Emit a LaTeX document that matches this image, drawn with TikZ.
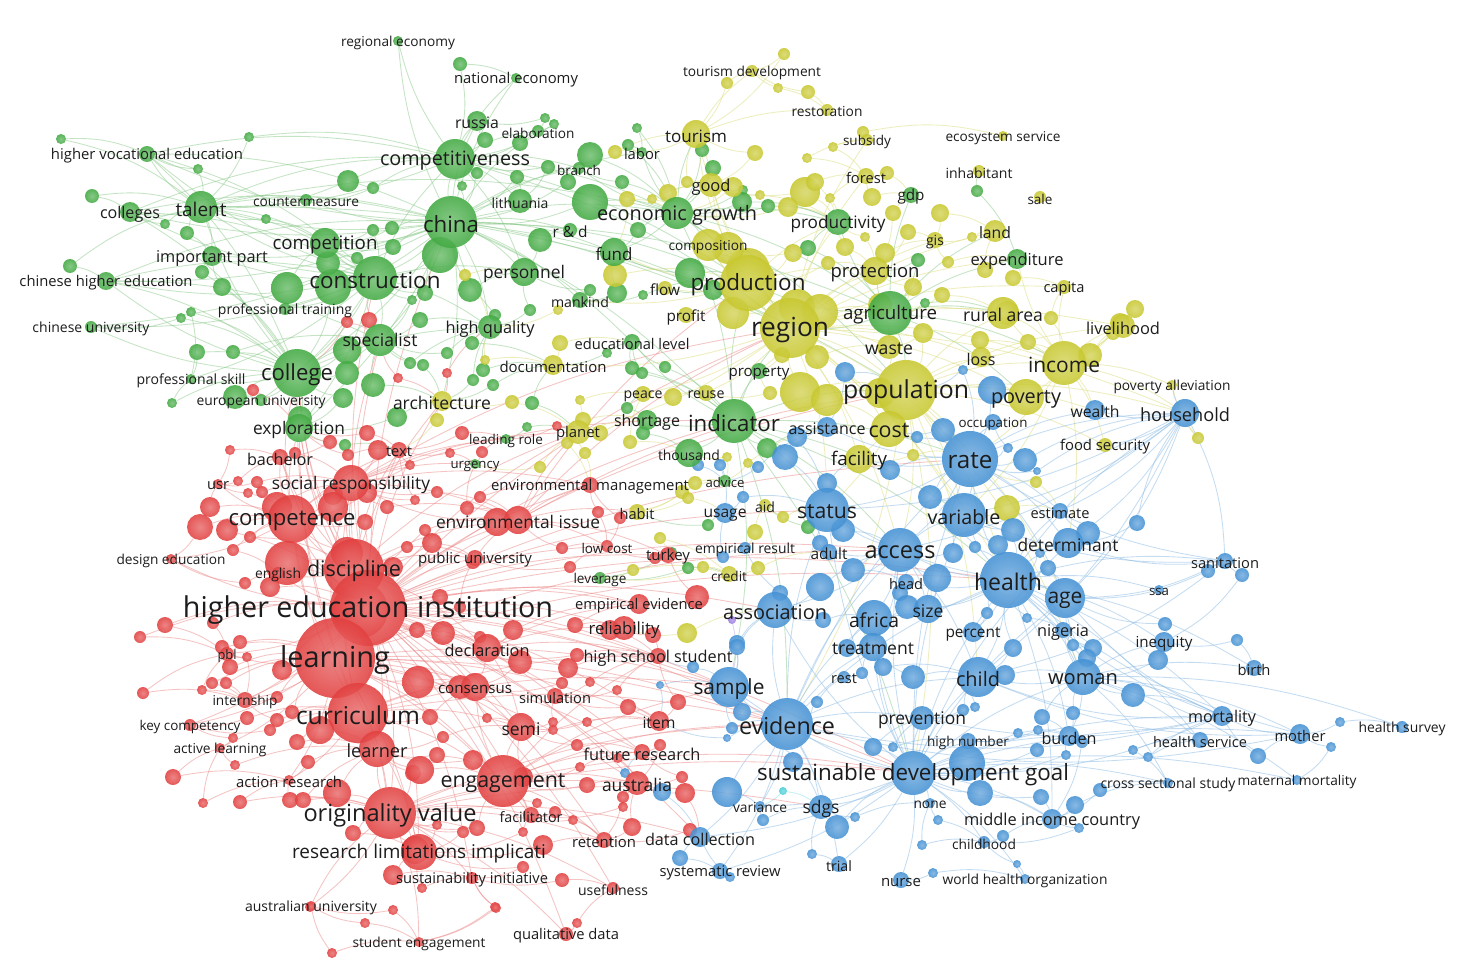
\documentclass[tikz,border=0pt]{standalone}
\usepackage{fontspec}
\setmainfont{Open Sans}
\usepackage{graphicx}
\definecolor{cG}{RGB}{66,170,66}
\definecolor{cY}{RGB}{200,200,48}
\definecolor{cR}{RGB}{226,64,64}
\definecolor{cB}{RGB}{68,145,212}
\definecolor{cC}{RGB}{70,205,215}
\definecolor{cP}{RGB}{150,120,220}
\definecolor{txt}{RGB}{28,28,28}
\tikzset{
 spot/.style={circle, draw=none, inner sep=0pt, minimum size=#1*2pt},
 lab/.style={inner sep=0pt, text=txt, yshift=-2pt, font=\fontsize{20pt}{24pt}\selectfont},
 ed/.style={draw=#1!62!white, draw opacity=.5, line width=.85pt},
 dot/.style={inner color=#1!72!white, outer color=#1, fill opacity=.88},
}
\def\hubs{%
regecon/398/41/5/cG/114/regional economy,
nateco/516/78/5/cG/124/national economy,
hve/147/154/8/cG/192/higher vocational education,
colleges/130/212/10/cG/60/colleges,
talent/201/207/16/cG/51/talent,
counterm/306/200/6/cG/106/countermeasure,
compet/455/159/20/cG/150/competitiveness,
russia/477/121/10/cG/44/russia,
elab/538/131/6/cG/73/elaboration,
labor/642/152/5/cG/36/labor,
branch/579/168/6/cG/44/branch,
china/451/222/26/cG/56/china,
lith/520/201/12/cG/57/lithuania,
econg/677/213/16/cG/160/economic growth,
rd/570/230/7/cG/35/r \& d,
fund/614/252/14/cG/37/fund,
competition/325/243/15/cG/105/competition,
imppart/212/256/10/cG/112/important part,
constr/375/278/22/cG/131/construction,
personnel/524/272/14/cG/82/personnel,
chihe/106/281/9/cG/173/chinese higher education,
proftrain/285/309/6/cG/134/professional training,
mankind/580/300/8/cG/58/mankind,
highq/490/327/12/cG/89/high quality,
chiuni/91/327/6/cG/117/chinese university,
specialist/380/340/16/cG/75/specialist,
edulevel/632/342/8/cG/115/educational level,
college/297/373/24/cG/72/college,
profskill/191/379/5/cG/109/professional skill,
euuni/261/400/6/cG/129/european university,
exploration/299/428/14/cG/92/exploration,
agri/890/313/22/cG/94/agriculture,
expend/1017/259/10/cG/93/expenditure,
gdp/911/195/8/cG/27/gdp,
productivity/838/222/13/cG/95/productivity,
indicator/734/421/22/cG/92/indicator,
property/759/371/8/cG/61/property,
shortage/647/420/10/cG/66/shortage,
leadrole/506/439/5/cG/74/leading role,
thousand/689/453/14/cG/62/thousand,
urgency/475/464/5/cG/49/urgency,
advice/725/481/6/cG/39/advice,
leverage/600/578/6/cG/53/leverage,
flow/665/288/7/cY/30/flow,
production/748/283/28/cY/115/production,
profit/686/315/8/cY/39/profit,
architecture/442/401/10/cY/98/architecture,
documentation/553/365/10/cY/107/documentation,
region/790/328/30/cY/78/region,
waste/889/347/12/cY/48/waste,
loss/981/357/10/cY/29/loss,
rural/1003/313/16/cY/80/rural area,
livelihood/1123/326/12/cY/74/livelihood,
income/1064/363/22/cY/72/income,
capita/1064/287/7/cY/41/capita,
land/995/231/11/cY/32/land,
gis/935/240/8/cY/18/gis,
sale/1040/197/6/cY/25/sale,
inhab/979/171/6/cY/67/inhabitant,
ecoserv/1003/136/5/cY/115/ecosystem service,
subsidy/867/140/6/cY/48/subsidy,
restoration/827/110/6/cY/71/restoration,
tourdev/752/71/6/cY/138/tourism development,
tourism/696/134/14/cY/62/tourism,
forest/866/176/8/cY/40/forest,
good/711/185/12/cY/39/good,
composition/708/245/16/cY/79/composition,
protection/875/271/14/cY/89/protection,
population/906/390/30/cY/126/population,
poverty/1026/397/18/cY/70/poverty,
povall/1172/385/5/cY/117/poverty alleviation,
foodsec/1105/445/7/cY/90/food security,
cost/889/429/18/cY/41/cost,
facility/859/459/14/cY/56/facility,
peace/643/394/8/cY/39/peace,
reuse/706/393/8/cY/37/reuse,
planet/578/432/12/cY/44/planet,
habit/637/512/8/cY/35/habit,
aid/765/505/6/cY/20/aid,
credit/729/574/8/cY/36/credit,
text/399/450/8/cR/26/text,
bachelor/280/457/8/cR/66/bachelor,
usr/218/484/5/cR/22/usr,
socresp/351/483/18/cR/158/social responsibility,
envmgmt/590/485/8/cR/198/environmental management,
competence/292/519/24/cR/127/competence,
envissue/518/520/14/cR/164/environmental issue,
lowcost/607/546/6/cR/51/low cost,
turkey/668/555/8/cR/44/turkey,
pubuni/475/558/8/cR/114/public university,
designedu/171/559/5/cR/109/design education,
english/278/573/6/cR/46/english,
discipline/354/569/30/cR/94/discipline,
hei/368/608/38/cR/370/higher education institution,
empev/639/604/10/cR/128/empirical evidence,
reliability/624/628/12/cR/71/reliability,
declaration/487/648/14/cR/85/declaration,
learning/335/658/40/cR/110/learning,
pbl/227/654/7/cR/19/pbl,
hss/658/656/8/cR/149/high school student,
consensus/475/687/14/cR/74/consensus,
simulation/555/696/8/cR/72/simulation,
internship/245/700/8/cR/65/internship,
curriculum/358/713/30/cR/124/curriculum,
item/659/721/10/cR/33/item,
semi/521/727/14/cR/39/semi,
keycomp/190/725/6/cR/101/key competency,
activel/220/748/5/cR/93/active learning,
learner/377/749/18/cR/61/learner,
futureres/642/752/8/cR/117/future research,
actionres/289/780/5/cR/106/action research,
engagement/503/781/26/cR/125/engagement,
australia/637/783/12/cR/70/australia,
originality/390/813/26/cR/173/originality value,
facilitator/531/815/8/cR/63/facilitator,
retention/604/840/8/cR/64/retention,
rli/419/852/18/cR/254/research limitations implicati,
susinit/472/878/6/cR/152/sustainability initiative,
usefulness/613/888/6/cR/70/usefulness,
ausuni/311/906/5/cR/132/australian university,
studeng/419/942/5/cR/133/student engagement,
qualdata/566/934/7/cR/106/qualitative data,
wealth/1095/410/10/cB/49/wealth,
household/1185/413/14/cB/90/household,
occupation/993/422/8/cB/69/occupation,
assistance/827/427/10/cB/77/assistance,
rate/970/459/28/cB/45/rate,
usage/725/513/10/cB/43/usage,
status/827/510/22/cB/60/status,
variable/964/515/22/cB/73/variable,
estimate/1060/511/8/cB/59/estimate,
determinant/1068/543/15/cB/101/determinant,
access/900/550/22/cB/71/access,
adult/829/552/8/cB/37/adult,
empres/745/548/6/cB/100/empirical result,
head/906/582/8/cB/34/head,
health/1008/580/28/cB/68/health,
age/1065/598/20/cB/35/age,
sanitation/1225/561/8/cB/68/sanitation,
ssa/1159/590/5/cB/20/ssa,
association/775/610/18/cB/104/association,
africa/874/618/18/cB/50/africa,
size/928/609/14/cB/31/size,
percent/973/632/10/cB/55/percent,
nigeria/1063/630/8/cB/52/nigeria,
inequity/1164/642/10/cB/57/inequity,
treatment/873/647/14/cB/82/treatment,
birth/1254/668/8/cB/33/birth,
sample/729/687/20/cB/71/sample,
rest/844/677/6/cB/26/rest,
child/978/677/20/cB/44/child,
woman/1083/677/18/cB/70/woman,
evidence/787/724/26/cB/96/evidence,
prevention/922/718/12/cB/88/prevention,
mortality/1222/716/10/cB/68/mortality,
healthsurvey/1402/727/6/cB/87/health survey,
mother/1300/734/10/cB/51/mother,
healthserv/1200/740/8/cB/94/health service,
burden/1069/736/10/cB/55/burden,
highnum/968/741/8/cB/82/high number,
sdg/913/773/22/cB/312/sustainable development goal,
crosssec/1168/783/5/cB/135/cross sectional study,
maternal/1297/780/5/cB/119/maternal mortality,
variance/760/806/5/cB/54/variance,
sdgs/821/807/12/cB/37/sdgs,
none/930/803/5/cB/33/none,
mic/1052/819/10/cB/176/middle income country,
datacoll/700/837/10/cB/110/data collection,
childhood/984/842/6/cB/64/childhood,
sysrev/720/871/8/cB/121/systematic review,
trial/839/864/8/cB/26/trial,
nurse/901/880/8/cB/40/nurse,
who/1025/879/5/cB/165/world health organization}
\def\bubs{%
61/139/5/cG/hve/talent, 249/137/5/cG/talent/compet, 198/169/5/cG/talent/hve, 92/196/7/cG/colleges/talent,
348/181/11/cG/compet/talent, 373/188/6/cG/compet/counterm, 165/224/5/cG/talent/colleges, 187/233/7/cG/talent/imppart,
266/219/5/cG/talent/competition, 485/140/8/cG/russia/compet, 462/186/5/cG/compet/china, 477/173/6/cG/compet/china,
392/228/7/cG/china/competition, 373/230/6/cG/competition/constr, 393/247/8/cG/competition/china, 440/255/18/cG/china/constr,
357/258/6/cG/constr/competition, 425/293/8/cG/constr/china, 412/300/5/cG/constr/specialist, 470/290/12/cG/china/personnel,
287/288/16/cG/constr/competition, 333/287/18/cG/constr/college, 328/263/12/cG/competition/constr, 202/272/7/cG/imppart/college,
222/287/9/cG/imppart/college, 70/266/7/cG/chihe/talent, 181/318/5/cG/college/chiuni, 191/312/5/cG/college/profskill,
420/320/8/cG/specialist/highq, 460/64/7/cG/nateco/compet, 545/118/5/cG/elab/russia, 554/124/5/cG/elab/compet,
637/128/5/cG/labor/econg, 520/143/8/cG/compet/elab, 590/155/13/cG/branch/econg, 628/145/6/cG/labor/econg,
702/150/7/cG/tourism/econg, 713/168/8/cG/econg/good, 743/190/5/cG/econg/good, 590/202/18/cG/econg/china,
622/182/7/cG/econg/branch, 568/182/8/cG/branch/china, 548/167/7/cG/lith/compet, 517/177/7/cG/lith/china,
638/230/8/cG/fund/econg, 540/240/12/cG/rd/personnel, 742/202/10/cG/econg/productivity, 768/206/7/cG/econg/productivity,
808/248/8/cG/productivity/agri, 918/260/7/cG/protection/agri, 925/303/5/cG/agri/rural, 690/273/15/cG/production/fund,
617/293/10/cG/fund/mankind, 643/295/5/cG/mankind/production, 590/290/6/cG/mankind/personnel, 530/310/6/cG/highq/personnel,
495/315/6/cG/highq/china, 713/290/10/cG/production/flow, 197/352/8/cG/college/profskill, 233/352/7/cG/college/specialist,
347/350/14/cG/specialist/college, 373/385/12/cG/specialist/architecture, 347/373/12/cG/college/specialist, 343/398/10/cG/exploration/college,
235/397/12/cG/euuni/college, 172/403/5/cG/profskill/college, 397/417/10/cG/architecture/exploration, 300/418/12/cG/exploration/college,
410/363/6/cG/specialist/highq, 423/365/6/cG/specialist/architecture, 447/353/6/cG/highq/specialist, 472/343/7/cG/highq/documentation,
473/380/6/cG/architecture/highq, 483/370/7/cG/highq/documentation, 607/353/5/cG/edulevel/documentation, 632/368/7/cG/edulevel/indicator,
642/373/6/cG/indicator/edulevel, 665/367/6/cG/indicator/edulevel, 493/385/6/cG/documentation/architecture, 532/403/7/cG/planet/documentation,
627/408/6/cG/shortage/peace, 643/433/7/cG/shortage/thousand, 527/427/5/cG/leadrole/planet, 767/448/10/cG/indicator/assistance,
808/527/7/cG/status/aid, 708/525/6/cG/usage/habit, 672/552/5/cG/turkey/leverage, 688/568/6/cG/credit/leverage,
345/445/6/cG/text/exploration, 977/191/6/cG/inhab/expend,
784/54/6/cY/tourdev/tourism, 727/83/6/cY/tourdev/tourism, 778/88/5/cY/tourdev/restoration, 808/92/7/cY/restoration/tourdev,
615/152/7/cY/labor/tourism, 755/153/8/cY/tourism/good, 807/158/5/cY/subsidy/forest, 833/147/5/cY/subsidy/forest,
863/132/6/cY/subsidy/ecoserv, 687/182/6/cY/good/tourism, 733/187/10/cY/good/econg, 668/193/9/cY/good/econg,
652/199/5/cY/econg/good, 627/199/8/cY/econg/fund, 760/195/5/cY/good/productivity, 805/192/15/cY/productivity/good,
815/182/9/cY/productivity/forest, 788/207/10/cY/productivity/econg, 830/198/5/cY/productivity/forest, 872/197/9/cY/forest/gdp,
887/173/7/cY/forest/gdp, 893/213/8/cY/gdp/protection, 940/213/9/cY/gis/land, 908/232/8/cY/gis/protection,
845/247/9/cY/protection/productivity, 793/253/9/cY/production/composition, 885/253/10/cY/protection/gis, 948/262/6/cY/gis/expend,
972/237/5/cY/land/gis, 828/263/7/cY/protection/production, 865/237/5/cY/productivity/protection, 913/287/9/cY/protection/agri,
942/295/8/cY/rural/agri, 615/275/12/cY/fund/production, 558/310/5/cY/mankind/highq, 733/313/16/cY/region/production,
748/270/22/cY/production/composition, 728/248/16/cY/composition/production, 797/307/18/cY/region/production, 820/312/18/cY/region/agri,
880/305/12/cY/agri/waste, 985/270/8/cY/expend/land, 1013/278/8/cY/expend/capita, 1135/309/9/cY/livelihood/income,
1007/313/12/cY/rural/income, 1051/318/7/cY/capita/income, 1120/323/10/cY/livelihood/income, 465/275/6/cY/personnel/highq,
560/343/8/cY/documentation/edulevel, 485/360/5/cY/highq/documentation, 512/402/7/cY/planet/architecture, 580/400/5/cY/peace/planet,
673/397/9/cY/peace/reuse, 583/420/8/cY/planet/shortage, 600/433/8/cY/planet/shortage, 567/443/6/cY/planet/envmgmt,
540/467/6/cY/urgency/planet, 585/453/6/cY/planet/envmgmt, 630/442/7/cY/thousand/peace, 727/457/5/cY/thousand/advice,
748/463/5/cY/advice/assistance, 800/392/20/cY/region/population, 827/400/16/cY/population/cost, 770/393/7/cY/property/reuse,
782/355/8/cY/region/property, 817/357/12/cY/region/waste, 880/393/15/cY/population/cost, 923/333/10/cY/waste/population,
913/455/6/cY/facility/rate, 980/340/9/cY/loss/income, 1028/342/8/cY/income/loss, 1090/355/12/cY/income/livelihood,
1113/333/7/cY/livelihood/income, 1198/438/6/cY/household/povall, 1036/482/6/cY/rate/estimate, 1007/508/13/cY/variable/estimate,
695/483/7/cY/advice/habit, 682/492/7/cY/habit/advice, 688/498/6/cY/habit/usage, 660/538/6/cY/turkey/credit,
633/570/6/cY/leverage/credit, 703/567/6/cY/credit/leverage, 758/568/7/cY/credit/adult, 755/532/8/cY/aid/empres,
783/517/6/cY/aid/status, 687/633/10/cY/reliability/association, 437/420/7/cY/architecture/text,
347/322/6/cR/specialist/college, 369/320/8/cR/specialist/constr, 253/390/6/cR/euuni/exploration, 398/378/5/cR/architecture/specialist,
447/373/5/cR/architecture/highq, 367/433/8/cR/text/exploration, 378/450/10/cR/text/socresp, 348/455/6/cR/text/exploration,
330/442/7/cR/exploration/bachelor, 230/450/5/cR/bachelor/usr, 295/453/6/cR/bachelor/socresp, 462/433/7/cR/leadrole/text,
450/453/5/cR/urgency/text, 482/452/6/cR/urgency/leadrole, 410/465/5/cR/text/socresp, 238/481/5/cR/usr/bachelor,
257/482/6/cR/usr/socresp, 248/493/5/cR/usr/competence, 262/492/6/cR/competence/socresp, 333/495/10/cR/socresp/competence,
367/493/10/cR/socresp/competence, 387/507/7/cR/socresp/envissue, 437/492/6/cR/socresp/envissue, 415/500/5/cR/socresp/text,
467/508/7/cR/envissue/urgency, 480/497/6/cR/envissue/envmgmt, 210/507/10/cR/competence/usr, 200/527/13/cR/competence/designedu,
227/530/11/cR/competence/hei, 250/537/6/cR/competence/discipline, 233/550/6/cR/competence/english, 277/507/15/cR/competence/socresp,
333/507/15/cR/competence/socresp, 365/522/8/cR/competence/discipline, 425/530/6/cR/envissue/discipline, 432/543/10/cR/discipline/pubuni,
407/547/6/cR/discipline/pubuni, 473/562/7/cR/pubuni/envissue, 497/522/14/cR/envissue/socresp, 557/426/5/cR/planet/leadrole,
562/548/6/cR/lowcost/envissue, 570/567/6/cR/lowcost/pubuni, 598/512/6/cR/lowcost/envmgmt, 620/518/6/cR/envmgmt/lowcost,
655/558/6/cR/turkey/lowcost, 697/597/12/cR/empev/turkey, 287/563/22/cR/discipline/hei, 347/553/16/cR/discipline/competence,
393/567/10/cR/discipline/hei, 270/587/10/cR/english/hei, 245/583/6/cR/english/designedu, 165/625/8/cR/hei/pbl,
140/637/6/cR/pbl/hei, 213/623/6/cR/pbl/hei, 240/642/7/cR/pbl/learning, 360/610/28/cR/hei/learning,
443/633/12/cR/hei/declaration, 417/630/8/cR/hei/declaration, 480/637/6/cR/declaration/hei, 440/597/8/cR/hei/empev,
460/607/6/cR/hei/pubuni, 513/630/10/cR/declaration/empev, 575/625/8/cR/reliability/empev, 610/630/10/cR/reliability/hss,
653/635/8/cR/reliability/hss, 520/662/12/cR/declaration/consensus, 568/668/10/cR/hss/simulation, 577/655/7/cR/hss/declaration,
562/683/6/cR/simulation/consensus, 617/690/5/cR/hss/simulation, 590/682/5/cR/simulation/hss, 628/707/8/cR/item/simulation,
678/702/8/cR/item/hss, 553/722/5/cR/semi/simulation, 553/730/5/cR/semi/item, 587/722/5/cR/item/semi,
577/745/6/cR/futureres/semi, 580/767/5/cR/futureres/engagement, 618/758/5/cR/futureres/australia, 660/745/6/cR/futureres/australia,
523/777/10/cR/engagement/semi, 587/785/8/cR/australia/engagement, 682/777/6/cR/australia/futureres, 685/793/10/cR/australia/datacoll,
623/797/6/cR/australia/retention, 623/807/5/cR/australia/facilitator, 537/803/5/cR/facilitator/engagement, 555/812/6/cR/facilitator/retention,
573/820/5/cR/retention/facilitator, 523/832/5/cR/facilitator/rli, 543/845/10/cR/rli/retention, 632/827/9/cR/retention/australia,
690/830/7/cR/datacoll/retention, 523/867/6/cR/susinit/rli, 562/880/7/cR/usefulness/susinit, 496/908/5/cR/susinit/studeng,
577/923/5/cR/qualdata/usefulness, 143/693/6/cR/pbl/internship, 173/777/8/cR/activel/actionres, 203/803/5/cR/actionres/activel,
240/802/7/cR/actionres/originality, 235/765/5/cR/activel/learner, 202/690/5/cR/internship/pbl, 212/683/6/cR/internship/learning,
226/683/6/cR/internship/learning, 230/667/8/cR/pbl/learning, 222/647/7/cR/pbl/learning, 247/657/5/cR/pbl/internship,
247/718/7/cR/keycomp/curriculum, 233/738/5/cR/activel/keycomp, 270/730/6/cR/curriculum/keycomp, 277/720/7/cR/curriculum/internship,
292/712/7/cR/curriculum/learning, 297/742/8/cR/learner/curriculum, 308/762/7/cR/learner/actionres, 277/697/6/cR/learning/internship,
282/670/10/cR/learning/hei, 320/730/14/cR/curriculum/learner, 290/800/8/cR/originality/actionres, 303/800/8/cR/originality/learner,
337/793/14/cR/originality/learner, 353/833/8/cR/originality/rli, 415/850/14/cR/rli/originality, 393/875/10/cR/rli/susinit,
422/888/5/cR/susinit/rli, 393/910/5/cR/ausuni/studeng, 365/923/5/cR/studeng/ausuni, 332/953/5/cR/studeng/ausuni,
310/907/5/cR/ausuni/originality, 495/907/5/cR/studeng/susinit, 477/828/8/cR/originality/engagement, 463/832/6/cR/originality/rli,
437/825/5/cR/originality/rli, 437/755/8/cR/learner/engagement, 413/773/8/cR/learner/originality, 460/687/12/cR/consensus/learning,
418/682/16/cR/learning/consensus, 430/717/8/cR/curriculum/consensus, 443/737/6/cR/learner/semi, 487/718/5/cR/semi/consensus,
420/770/14/cR/engagement/learner, 473/760/10/cR/engagement/learner,
963/370/5/cB/population/rate, 992/390/14/cB/poverty/rate, 1025/460/12/cB/rate/household, 1008/448/5/cB/rate/occupation,
1037/471/4/cB/rate/household, 845/372/10/cB/population/assistance, 943/430/12/cB/rate/cost, 917/437/6/cB/cost/rate,
890/470/10/cB/facility/rate, 797/437/10/cB/assistance/status, 785/457/13/cB/assistance/status, 758/467/6/cB/advice/assistance,
698/465/6/cB/advice/thousand, 720/465/6/cB/advice/usage, 827/483/10/cB/status/facility, 743/497/6/cB/usage/status,
930/497/12/cB/variable/rate, 843/530/12/cB/status/access, 820/543/8/cB/adult/status, 853/570/12/cB/access/head,
953/553/10/cB/variable/access, 937/578/14/cB/size/access, 900/593/8/cB/head/size, 820/587/14/cB/association/access,
780/593/8/cB/association/empres, 823/620/8/cB/africa/association, 907/607/12/cB/size/africa, 737/643/8/cB/association/sample,
723/557/6/cB/empres/usage, 1088/533/12/cB/determinant/estimate, 1137/523/8/cB/determinant/household, 1013/530/12/cB/variable/health,
998/545/10/cB/health/variable, 975/547/6/cB/health/variable, 1040/553/5/cB/determinant/health, 1048/568/8/cB/health/age,
1208/571/7/cB/sanitation/age, 1242/575/7/cB/sanitation/inequity, 1165/624/7/cB/inequity/age, 1237/640/6/cB/inequity/birth,
1158/660/10/cB/inequity/woman, 1027/618/5/cB/nigeria/health, 987/613/6/cB/percent/health, 1005/675/10/cB/child/woman,
1013/648/9/cB/child/health, 1093/648/9/cB/woman/nigeria, 1073/645/6/cB/nigeria/woman, 1087/658/9/cB/woman/age,
1133/695/12/cB/woman/mortality, 963/710/6/cB/prevention/child, 975/707/5/cB/child/prevention, 1042/717/8/cB/burden/woman,
1073/713/7/cB/burden/woman, 1018/733/5/cB/burden/highnum, 1038/730/5/cB/burden/highnum, 1082/742/6/cB/burden/mic,
1037/750/7/cB/burden/sdg, 1066/755/5/cB/burden/sdg, 1133/750/5/cB/healthserv/crosssec, 1148/757/5/cB/healthserv/mortality,
1258/756/8/cB/mother/mortality, 1340/722/5/cB/mother/healthsurvey, 1331/747/5/cB/mother/maternal, 967/763/18/cB/sdg/highnum,
980/793/13/cB/sdg/mic, 1100/790/7/cB/crosssec/mic, 1041/797/8/cB/mic/sdg, 1075/805/9/cB/mic/crosssec,
1079/828/5/cB/mic/childhood, 1003/836/6/cB/childhood/mic, 1017/864/4/cB/who/childhood, 737/647/8/cB/sample/association,
693/667/6/cB/sample/hss, 660/685/4/cB/sample/item, 742/712/9/cB/evidence/sample, 793/762/10/cB/evidence/sdgs,
732/728/6/cB/evidence/sample, 727/738/4/cB/evidence/item, 817/702/6/cB/evidence/rest, 862/673/6/cB/rest/treatment,
847/648/9/cB/treatment/africa, 883/667/9/cB/treatment/child, 913/677/12/cB/child/treatment, 893/747/5/cB/prevention/highnum,
873/747/9/cB/prevention/sdg, 727/792/15/cB/variance/evidence, 662/792/9/cB/australia/datacoll, 625/773/5/cB/australia/futureres,
783/791/4/cC/variance/sdgs, 763/820/6/cB/variance/sdgs, 837/827/12/cB/sdgs/sdg, 855/817/5/cB/sdgs/none,
680/858/8/cB/datacoll/sysrev, 730/877/5/cB/sysrev/datacoll, 812/854/5/cB/trial/sdgs, 938/820/5/cB/none/childhood,
922/845/5/cB/none/childhood, 933/873/5/cB/nurse/who, 732/620/4/cP/association/sample}
\begin{document}
\begin{tikzpicture}[x=1pt,y=-1pt]
\fill[white] (0,0) rectangle (1473,971);
\useasboundingbox (0,0) rectangle (1473,971);
% named items (keywords and unlabelled items)
\foreach \n/\x/\y/\r/\c/\w/\t in \hubs { \node[spot=\r] (\n) at (\x,\y) {}; }
\foreach \x/\y/\r/\c/\h/\k [count=\i] in \bubs { \node[spot=\r] (u\i) at (\x,\y) {}; }
% links of unlabelled items
\foreach \x/\y/\r/\c/\h/\k [count=\i] in \bubs {
 \draw[ed=\c] (u\i) to[bend left=12] (\h);
 \draw[ed=\c] (u\i) to[bend left=12] (\k);
}
% links between keywords
\foreach \a in {learning, curriculum, discipline, competence, socresp, engagement, originality, rli, declaration, consensus, envissue, pubuni, empev, reliability, hss, semi, item, australia, futureres, simulation, learner, sample, evidence, sdg, indicator, region, population, china, constr, college, facilitator, retention, datacoll, qualdata, susinit, usefulness, pbl, internship, keycomp, designedu, english, bachelor, text, exploration, turkey, lowcost, envmgmt, planet, architecture, association, access, status, specialist, health, rate}
 \draw[ed=cR] (hei) to[bend left=10] (\a);
\foreach \a in {curriculum, learner, originality, engagement, competence, discipline, semi, consensus, evidence, sample, sdg, rli, actionres, activel, keycomp, internship, pbl, socresp, futureres, item, australia, facilitator, health, access}
 \draw[ed=cR] (learning) to[bend left=10] (\a);
\foreach \a in {learner, originality, engagement, competence, discipline, semi, consensus, rli, socresp, actionres, exploration, college, hss, sample, evidence}
 \draw[ed=cR] (curriculum) to[bend left=10] (\a);
\foreach \a in {rli, engagement, learner, susinit, ausuni, studeng, qualdata, usefulness, retention, facilitator, australia, datacoll, sdgs, evidence, sdg}
 \draw[ed=cR] (originality) to[bend left=10] (\a);
\foreach \a in {semi, australia, futureres, item, retention, facilitator, sample, evidence, sdg, hss, consensus}
 \draw[ed=cR] (engagement) to[bend left=10] (\a);
\foreach \a in {competence, socresp, envissue, pubuni, english, declaration, text, bachelor, college, exploration, architecture, specialist, planet}
 \draw[ed=cR] (discipline) to[bend left=10] (\a);
\foreach \a in {socresp, usr, bachelor, designedu, exploration, text, college}
 \draw[ed=cR] (competence) to[bend left=10] (\a);
\foreach \a in {envissue, text, envmgmt, leadrole, urgency, planet, indicator, region}
 \draw[ed=cR] (socresp) to[bend left=10] (\a);
\foreach \a in {envmgmt, habit, planet, lowcost, turkey, production, region, population}
 \draw[ed=cR] (envissue) to[bend left=10] (\a);
\foreach \a in {consensus, empev, reliability, hss, semi}
 \draw[ed=cR] (declaration) to[bend left=10] (\a);
\foreach \a in {compet, constr, talent, colleges, competition, econg, russia, lith, personnel, fund, region, production, indicator, college, specialist, hve, chihe, chiuni, imppart, counterm, proftrain, nateco, regecon, agri, population, highq, rd, elab, branch, labor, mankind, edulevel, exploration, architecture}
 \draw[ed=cG] (china) to[bend left=10] (\a);
\foreach \a in {college, specialist, talent, competition, colleges, imppart, chihe, proftrain, compet, highq, exploration, personnel, profskill, euuni, hve, chiuni}
 \draw[ed=cG] (constr) to[bend left=10] (\a);
\foreach \a in {econg, russia, lith, elab, talent, personnel, region, production, branch, nateco, regecon}
 \draw[ed=cG] (compet) to[bend left=10] (\a);
\foreach \a in {specialist, exploration, profskill, euuni, talent, chihe, chiuni, highq}
 \draw[ed=cG] (college) to[bend left=10] (\a);
\foreach \a in {production, region, tourism, good, fund, agri, productivity, indicator, population, composition, branch, labor}
 \draw[ed=cG] (econg) to[bend left=10] (\a);
\foreach \a in {region, population, production, status, access, rate, health, evidence, thousand, shortage, edulevel, property, sdg, sample, variable}
 \draw[ed=cG] (indicator) to[bend left=10] (\a);
\foreach \a in {region, production, population, rural, income, poverty, productivity, expend, gdp, land, protection}
 \draw[ed=cG] (agri) to[bend left=10] (\a);
\foreach \a in {colleges, hve, counterm, competition, imppart, china, compet, constr, econg, region}
 \draw[ed=cG] (talent) to[bend left=12] (\a);
\foreach \a in {china, compet, constr, college}
 \draw[ed=cG] (hve) to[bend left=12] (\a);
\foreach \a in {china, constr, compet, college}
 \draw[ed=cG] (colleges) to[bend left=12] (\a);
\foreach \a in {constr, college, china, specialist}
 \draw[ed=cG] (chihe) to[bend left=12] (\a);
\foreach \a in {population, production, income, poverty, rural, land, protection, productivity, tourism, cost, facility, rate, access, health, household, livelihood, waste, loss, composition, good, gis, forest, subsidy, capita, expend, property, peace, reuse, planet, documentation, status, variable}
 \draw[ed=cY] (region) to[bend left=10] (\a);
\foreach \a in {income, poverty, rate, health, access, household, variable, cost, facility, age, woman, child, sdg, evidence, status, waste, loss, wealth, foodsec, livelihood, rural}
 \draw[ed=cY] (population) to[bend left=10] (\a);
\foreach \a in {composition, flow, profit, good, tourism, fund, productivity, protection, mankind}
 \draw[ed=cY] (production) to[bend left=10] (\a);
\foreach \a in {household, poverty, livelihood, rural, capita, wealth, foodsec, povall, expend, rate, variable, determinant}
 \draw[ed=cY] (income) to[bend left=10] (\a);
\foreach \a in {tourdev, restoration, good, labor}
 \draw[ed=cY] (tourism) to[bend left=10] (\a);
\foreach \a in {evidence, health, rate, access, age, woman, child, mortality, burden, mic, sdgs, sample, prevention, highnum, crosssec, maternal, mother, who, nurse, childhood, none, trial, sysrev, variance, datacoll, africa, treatment, status, variable, determinant, association}
 \draw[ed=cB] (sdg) to[bend left=10] (\a);
\foreach \a in {sample, association, africa, treatment, prevention, access, status, health, sdgs, variance, sysrev, datacoll, trial, child, rate}
 \draw[ed=cB] (evidence) to[bend left=10] (\a);
\foreach \a in {age, woman, child, access, rate, variable, determinant, household, estimate, nigeria, percent, inequity, sanitation, ssa, birth, mortality, healthserv, burden, mic, status, africa, size, head}
 \draw[ed=cB] (health) to[bend left=10] (\a);
\foreach \a in {variable, status, access, age, household, wealth, occupation, estimate, determinant, assistance, facility}
 \draw[ed=cB] (rate) to[bend left=10] (\a);
\foreach \a in {status, africa, size, head, adult, treatment, child, association, variable}
 \draw[ed=cB] (access) to[bend left=10] (\a);
\foreach \a in {age, child, mortality, birth, mother, healthserv, burden, inequity, nigeria, maternal, healthsurvey, crosssec}
 \draw[ed=cB] (woman) to[bend left=10] (\a);
\foreach \a in {wealth, determinant, estimate, age, foodsec, sanitation, povall, variable, status, child, access}
 \draw[ed=cB] (household) to[bend left=12] (\a);
\foreach \a in {age, child, rate, variable, determinant}
 \draw[ed=cB] (sanitation) to[bend left=12] (\a);
\foreach \a in {child, age, evidence, prevention, sdg, health}
 \draw[ed=cB] (mortality) to[bend left=12] (\a);
\foreach \a in {child, health, mortality, evidence}
 \draw[ed=cB] (mother) to[bend left=12] (\a);
% circles
\foreach \x/\y/\r/\c/\h/\k [count=\i] in \bubs { \shade[dot=\c] (u\i.center) circle (\r); }
\foreach \n/\x/\y/\r/\c/\w/\t in \hubs { \shade[dot=\c] (\n.center) circle (\r); }
% labels
\foreach \n/\x/\y/\r/\c/\w/\t in \hubs { \node[lab] (\n-t) at (\n.center) {\resizebox{\w pt}{!}{\t}}; }
\end{tikzpicture}
\end{document}
